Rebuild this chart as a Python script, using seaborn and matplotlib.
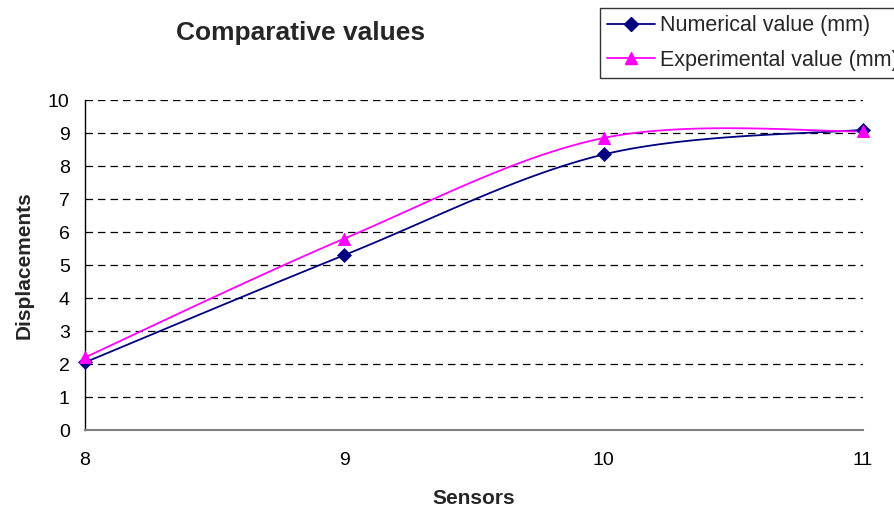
import numpy as np
import pandas as pd
import matplotlib
matplotlib.use("Agg")
import matplotlib.pyplot as plt
from matplotlib.lines import Line2D
import seaborn as sns

sensors = [8, 9, 10, 11]
numerical = [2.05, 5.3, 8.35, 9.1]
experimental = [2.2, 5.8, 8.85, 9.05]
series_names = ["Numerical value (mm)", "Experimental value (mm)"]
colors = ["#000080", "#FF00FF"]
markers = ["D", "^"]


def smooth(x, y, n=40):
    """Catmull-Rom (Bezier, 1/6 tangent) smoothing through the given points."""
    x = np.asarray(x, float)
    y = np.asarray(y, float)
    px = np.concatenate([[x[0]], x, [x[-1]]])
    py = np.concatenate([[y[0]], y, [y[-1]]])
    xs, ys = [], []
    t = np.linspace(0, 1, n)
    for i in range(1, len(px) - 2):
        p0 = np.array([px[i], py[i]])
        p3 = np.array([px[i + 1], py[i + 1]])
        p1 = p0 + (np.array([px[i + 1], py[i + 1]]) - np.array([px[i - 1], py[i - 1]])) / 6
        p2 = p3 - (np.array([px[i + 2], py[i + 2]]) - np.array([px[i], py[i]])) / 6
        b = (((1 - t) ** 3)[:, None] * p0 + (3 * (1 - t) ** 2 * t)[:, None] * p1
             + (3 * (1 - t) * t ** 2)[:, None] * p2 + (t ** 3)[:, None] * p3)
        xs.extend(b[:, 0])
        ys.extend(b[:, 1])
    return np.array(xs), np.array(ys)


sns.set_style("white")
plt.rcParams["font.family"] = ["Liberation Sans", "DejaVu Sans"]

fig = plt.figure(figsize=(8.94, 5.11), dpi=100)
ax = fig.add_axes([0.0951, 0.1585, 0.8702, 0.6458])

for name, vals, c, m in zip(series_names, [numerical, experimental], colors, markers):
    sx, sy = smooth(sensors, vals)
    curve = pd.DataFrame({"x": sx, "y": sy})
    sns.lineplot(data=curve, x="x", y="y", ax=ax, color=c, lw=1.3, sort=False,
                 estimator=None, zorder=3)
    pts = pd.DataFrame({"x": sensors, "y": vals})
    sns.scatterplot(data=pts, x="x", y="y", ax=ax, color=c, marker=m,
                    s=75 if m == "^" else 50, edgecolor=c, zorder=4, clip_on=False)

ax.set_xlim(8, 11)
ax.set_ylim(0, 10)
ax.set_xticks(sensors)
ax.set_yticks(range(0, 11))
ax.tick_params(axis="both", labelsize=14, colors="black")
ax.tick_params(axis="y", direction="out", length=7, width=1, pad=4)
ax.tick_params(axis="x", direction="inout", length=8, width=1, pad=12, color="#808080")
ax.yaxis.grid(True, linestyle=(0, (6, 4)), color="black", lw=0.9)
ax.set_axisbelow(True)
for s in ["top", "right"]:
    ax.spines[s].set_visible(False)
ax.spines["left"].set_color("black")
ax.spines["left"].set_linewidth(1)
ax.spines["bottom"].set_color("#808080")
ax.spines["bottom"].set_linewidth(1.5)
ax.set_xlabel("Sensors", fontsize=15, fontweight="bold", labelpad=14)
ax.set_ylabel("Displacements", fontsize=15, fontweight="bold", labelpad=10)

fig.text(0.336, 0.935, "Comparative values", fontsize=19, fontweight="bold",
         ha="center", va="center")

handles = [Line2D([0], [0], color=c, marker=m, markersize=9 if m == "^" else 7,
                  markerfacecolor=c, markeredgecolor=c, lw=1.3)
           for c, m in zip(colors, markers)]
leg = fig.legend(handles, series_names, loc="upper left",
                 bbox_to_anchor=(0.671, 0.985), fontsize=15.5, frameon=True,
                 fancybox=False, edgecolor="black", handlelength=2.2,
                 handletextpad=0.25, borderpad=0.35, labelspacing=0.62,
                 borderaxespad=0)
leg.get_frame().set_linewidth(1)

fig.savefig("out.png", dpi=100)
